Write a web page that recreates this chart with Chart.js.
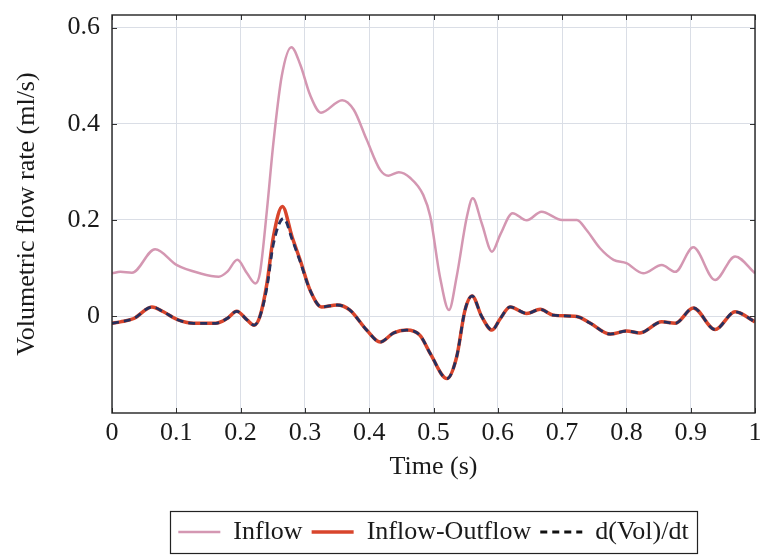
<!DOCTYPE html>
<html><head><meta charset="utf-8">
<script src="https://cdn.jsdelivr.net/npm/chart.js@4/dist/chart.umd.min.js"></script>
<style>html,body{margin:0;padding:0;background:#fff}#wrap{width:764px;height:555px;position:relative}canvas{display:block}</style>
</head><body><div id="wrap"><canvas id="c" width="764" height="555"></canvas></div>
<script>
// ---- data ----
const inflowT = [0,0.013,0.031,0.067,0.101,0.137,0.166,0.179,0.195,0.210,0.223,0.230,0.241,0.251,0.264,0.279,0.293,0.308,0.325,0.358,0.376,0.396,0.417,0.430,0.446,0.464,0.484,0.495,0.510,0.524,0.536,0.552,0.561,0.575,0.591,0.604,0.623,0.645,0.668,0.700,0.723,0.738,0.759,0.780,0.800,0.826,0.855,0.876,0.904,0.938,0.969,1.000];
const inflowV = [0.089,0.092,0.090,0.139,0.106,0.089,0.082,0.092,0.117,0.089,0.068,0.089,0.221,0.360,0.499,0.559,0.522,0.460,0.423,0.449,0.429,0.367,0.304,0.292,0.299,0.287,0.252,0.207,0.082,0.0125,0.082,0.207,0.245,0.193,0.134,0.170,0.214,0.199,0.217,0.200,0.200,0.179,0.141,0.117,0.110,0.089,0.106,0.092,0.143,0.075,0.124,0.089];

const netT = [0,0.013,0.034,0.062,0.080,0.101,0.127,0.161,0.179,0.194,0.210,0.221,0.230,0.241,0.251,0.265,0.280,0.293,0.308,0.326,0.350,0.370,0.396,0.417,0.438,0.458,0.479,0.495,0.521,0.536,0.549,0.560,0.575,0.591,0.604,0.619,0.645,0.666,0.686,0.723,0.744,0.775,0.800,0.821,0.855,0.876,0.904,0.938,0.969,1.000];
const netV = [-0.015,-0.012,-0.005,0.019,0.009,-0.007,-0.015,-0.015,-0.005,0.010,-0.008,-0.019,-0.001,0.068,0.165,0.228,0.165,0.115,0.054,0.019,0.023,0.0125,-0.029,-0.054,-0.035,-0.029,-0.040,-0.078,-0.130,-0.085,0.0125,0.042,-0.001,-0.029,-0.005,0.019,0.0055,0.014,0.002,-0.001,-0.015,-0.0375,-0.031,-0.035,-0.012,-0.015,0.017,-0.028,0.009,-0.012];

const dvdtT = [0,0.013,0.034,0.062,0.080,0.101,0.127,0.161,0.179,0.194,0.210,0.221,0.230,0.241,0.251,0.267,0.280,0.293,0.308,0.326,0.350,0.370,0.396,0.417,0.438,0.458,0.479,0.495,0.521,0.536,0.549,0.560,0.575,0.591,0.604,0.619,0.645,0.666,0.686,0.723,0.744,0.775,0.800,0.821,0.855,0.876,0.904,0.938,0.969,1.000];
const dvdtV = [-0.015,-0.012,-0.005,0.019,0.009,-0.007,-0.015,-0.015,-0.005,0.010,-0.008,-0.019,-0.001,0.060,0.150,0.203,0.160,0.112,0.054,0.019,0.023,0.0125,-0.029,-0.054,-0.035,-0.029,-0.040,-0.078,-0.130,-0.085,0.0125,0.042,-0.001,-0.029,-0.005,0.019,0.0055,0.014,0.002,-0.001,-0.015,-0.0375,-0.031,-0.035,-0.012,-0.015,0.017,-0.028,0.009,-0.012];

const seriesNames = ['Inflow','Inflow-Outflow','d(Vol)/dt'];
const xTickValues = [0,0.1,0.2,0.3,0.4,0.5,0.6,0.7,0.8,0.9,1];
const xTickLabels = ['0','0.1','0.2','0.3','0.4','0.5','0.6','0.7','0.8','0.9','1'];
const yTickValues = [0,0.2,0.4,0.6];
const yTickLabels = ['0','0.2','0.4','0.6'];

const pts = (t, v) => t.map((x, i) => ({x: x, y: v[i]}));
const FONT = "'Liberation Serif', 'Times New Roman', serif";
const TXT = '#1a1a1a';

const framePlugin = {
  id: 'frame',
  afterDatasetsDraw(chart) {
    const {ctx, chartArea: a, scales: {x, y}} = chart;
    ctx.save();
    ctx.strokeStyle = '#333';
    ctx.lineWidth = 1;
    ctx.beginPath();
    xTickValues.forEach(v => {
      const px = Math.round(x.getPixelForValue(v)) + 0.5;
      ctx.moveTo(px, a.bottom); ctx.lineTo(px, a.bottom - 5);
      ctx.moveTo(px, a.top); ctx.lineTo(px, a.top + 5);
    });
    yTickValues.forEach(v => {
      const py = Math.round(y.getPixelForValue(v)) + 0.5;
      ctx.moveTo(a.left, py); ctx.lineTo(a.left + 5, py);
      ctx.moveTo(a.right, py); ctx.lineTo(a.right - 5, py);
    });
    ctx.stroke();
    ctx.strokeStyle = '#222';
    ctx.lineWidth = 1.4;
    ctx.strokeRect(a.left, a.top, a.right - a.left, a.bottom - a.top);
    ctx.restore();
  },
  afterDraw(chart) {
    const lg = chart.legend;
    if (!lg || !lg.legendHitBoxes || !lg.legendHitBoxes.length) return;
    const hb = lg.legendHitBoxes;
    const l = Math.min(...hb.map(h => h.left)) - 8;
    const r = Math.max(...hb.map(h => h.left + h.width)) + 9;
    const {ctx} = chart;
    ctx.save();
    ctx.strokeStyle = '#222';
    ctx.lineWidth = 1.2;
    ctx.strokeRect(Math.round(l) + 0.5, Math.round(lg.top) + 1.5, Math.round(r - l), Math.round(lg.bottom - lg.top) - 3);
    ctx.restore();
  }
};

new Chart(document.getElementById('c'), {
  type: 'line',
  data: {
    datasets: [
      {label: seriesNames[0], data: pts(inflowT, inflowV), borderColor: '#d497b2', backgroundColor: '#d497b2', borderWidth: 2.5, order: 3},
      {label: seriesNames[1], data: pts(netT, netV), borderColor: '#d8452c', backgroundColor: '#d8452c', borderWidth: 3.5, order: 2},
      {label: seriesNames[2], data: pts(dvdtT, dvdtV), borderColor: '#26305e', backgroundColor: '#26305e', borderWidth: 2.8, borderDash: [7, 5], order: 1}
    ]
  },
  options: {
    responsive: false,
    animation: false,
    devicePixelRatio: 1,
    layout: {padding: {left: 0, right: 9, top: 15, bottom: 0}},
    elements: {point: {radius: 0}, line: {cubicInterpolationMode: 'monotone', fill: false}},
    scales: {
      x: {
        type: 'linear', min: 0, max: 1,
        afterBuildTicks: s => { s.ticks = xTickValues.map(v => ({value: v})); },
        afterFit: s => { s.height = 97; s.paddingLeft = 0; s.paddingRight = 0; },
        ticks: {callback: (v, i) => xTickLabels[i], color: TXT, font: {family: FONT, size: 26}, padding: 5, maxRotation: 0, autoSkip: false},
        grid: {color: '#dadee6', lineWidth: 1, drawTicks: false},
        border: {display: false},
        title: {display: true, text: 'Time (s)', color: TXT, font: {family: FONT, size: 26}, padding: {top: 0, bottom: 27}}
      },
      y: {
        type: 'linear', min: -0.2015, max: 0.626,
        afterBuildTicks: s => { s.ticks = yTickValues.map(v => ({value: v})); },
        afterFit: s => { s.width = 112; s.paddingTop = 0; s.paddingBottom = 0; },
        ticks: {callback: (v, i) => yTickLabels[i], color: TXT, font: {family: FONT, size: 26}, padding: 12},
        grid: {color: '#dadee6', lineWidth: 1, drawTicks: false},
        border: {display: false},
        title: {display: true, text: 'Volumetric flow rate (ml/s)', color: TXT, font: {family: FONT, size: 26}, padding: {top: 12, bottom: 0}}
      }
    },
    plugins: {
      legend: {
        position: 'bottom',
        fullSize: false,
        labels: {
          usePointStyle: true, pointStyle: 'line', pointStyleWidth: 42, color: TXT, font: {family: FONT, size: 26}, padding: 9,
          sort: (a, b) => a.datasetIndex - b.datasetIndex,
          generateLabels: chart => Chart.defaults.plugins.legend.labels.generateLabels(chart).map(it => {
            const ds = chart.data.datasets[it.datasetIndex];
            it.lineDash = ds.borderDash || [];
            it.lineWidth = ds.borderWidth;
            it.strokeStyle = it.datasetIndex === 2 ? '#111' : ds.borderColor;
            it.pointStyle = 'line';
            return it;
          })
        }
      },
      tooltip: {enabled: false}
    }
  },
  plugins: [framePlugin]
});
</script>
</body></html>
